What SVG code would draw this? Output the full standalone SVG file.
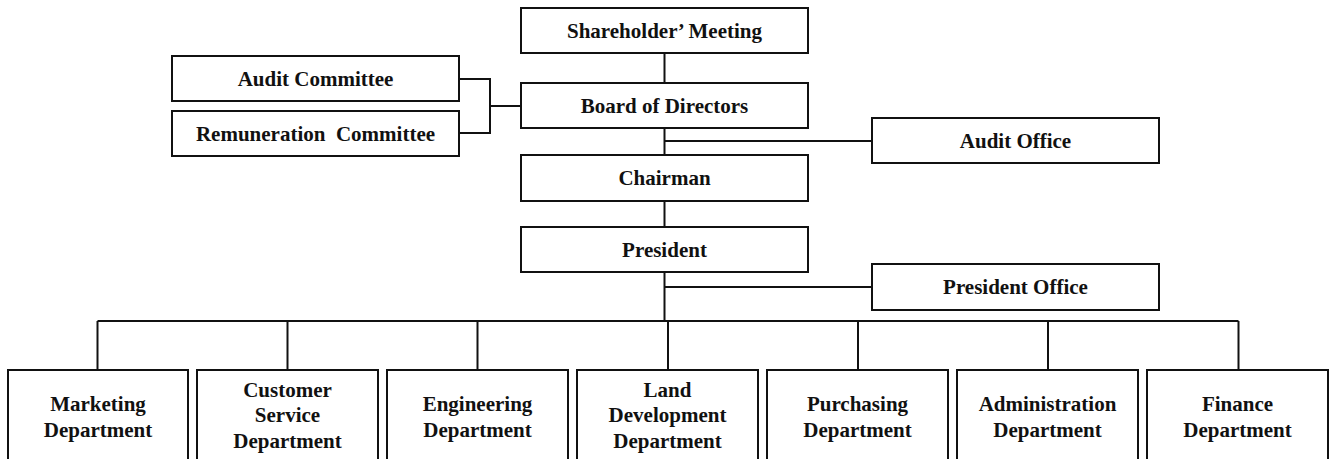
<svg xmlns="http://www.w3.org/2000/svg" width="1335" height="459" viewBox="0 0 1335 459">
  <style>
    .box { fill: #ffffff; stroke: #111111; stroke-width: 2; }
    .lbl { font-family: "Liberation Serif", "Times New Roman", serif; font-weight: bold; font-size: 21px; fill: #111111; text-anchor: middle; }
    .wire { fill: none; stroke: #111111; stroke-width: 2; }
  </style>
  <rect x="0" y="0" width="1335" height="459" fill="#ffffff"/>

  <!-- connectors -->
  <g id="connectors" class="wire">
    <path d="M664.5 53 V83"/>
    <path d="M664.5 128 V155"/>
    <path d="M664.5 201 V227"/>
    <path d="M664.5 272 V321"/>
    <path d="M664.5 141 H872"/>
    <path d="M664.5 287 H872"/>
    <path d="M459 79 H490 V133 H459"/>
    <path d="M490 106 H521"/>
    <path d="M97.5 321 H1238.5"/>
    <path d="M97.5 321 V370"/>
    <path d="M287.5 321 V370"/>
    <path d="M477.5 321 V370"/>
    <path d="M668 321 V370"/>
    <path d="M858 321 V370"/>
    <path d="M1048 321 V370"/>
    <path d="M1238.5 321 V370"/>
  </g>

  <!-- governance -->
  <g id="shareholders-meeting">
    <rect class="box" x="521" y="8" width="287" height="45"/>
    <text class="lbl" x="664.5" y="38">Shareholder’ Meeting</text>
  </g>
  <g id="board-of-directors">
    <rect class="box" x="521" y="83" width="287" height="45"/>
    <text class="lbl" x="664.5" y="113">Board of Directors</text>
  </g>
  <g id="audit-committee">
    <rect class="box" x="172" y="56" width="287" height="45"/>
    <text class="lbl" x="315.5" y="86">Audit Committee</text>
  </g>
  <g id="remuneration-committee">
    <rect class="box" x="172" y="111" width="287" height="45"/>
    <text class="lbl" x="315.5" y="141" xml:space="preserve">Remuneration  Committee</text>
  </g>
  <g id="audit-office">
    <rect class="box" x="872" y="118" width="287" height="45"/>
    <text class="lbl" x="1015.5" y="148">Audit Office</text>
  </g>
  <g id="chairman">
    <rect class="box" x="521" y="155" width="287" height="46"/>
    <text class="lbl" x="664.5" y="185">Chairman</text>
  </g>
  <g id="president">
    <rect class="box" x="521" y="227" width="287" height="45"/>
    <text class="lbl" x="664.5" y="257">President</text>
  </g>
  <g id="president-office">
    <rect class="box" x="872" y="264" width="287" height="46"/>
    <text class="lbl" x="1015.5" y="294">President Office</text>
  </g>

  <!-- departments -->
  <g id="marketing-department">
    <rect class="box" x="8" y="370" width="180" height="100"/>
    <text class="lbl" x="98" y="411">Marketing</text>
    <text class="lbl" x="98" y="437">Department</text>
  </g>
  <g id="customer-service-department">
    <rect class="box" x="197" y="370" width="181" height="100"/>
    <text class="lbl" x="287.5" y="397">Customer</text>
    <text class="lbl" x="287.5" y="422">Service</text>
    <text class="lbl" x="287.5" y="448">Department</text>
  </g>
  <g id="engineering-department">
    <rect class="box" x="387" y="370" width="181" height="100"/>
    <text class="lbl" x="477.5" y="411">Engineering</text>
    <text class="lbl" x="477.5" y="437">Department</text>
  </g>
  <g id="land-development-department">
    <rect class="box" x="577" y="370" width="181" height="100"/>
    <text class="lbl" x="667.5" y="397">Land</text>
    <text class="lbl" x="667.5" y="422">Development</text>
    <text class="lbl" x="667.5" y="448">Department</text>
  </g>
  <g id="purchasing-department">
    <rect class="box" x="767" y="370" width="181" height="100"/>
    <text class="lbl" x="857.5" y="411">Purchasing</text>
    <text class="lbl" x="857.5" y="437">Department</text>
  </g>
  <g id="administration-department">
    <rect class="box" x="957" y="370" width="181" height="100"/>
    <text class="lbl" x="1047.5" y="411">Administration</text>
    <text class="lbl" x="1047.5" y="437">Department</text>
  </g>
  <g id="finance-department">
    <rect class="box" x="1147" y="370" width="181" height="100"/>
    <text class="lbl" x="1237.5" y="411">Finance</text>
    <text class="lbl" x="1237.5" y="437">Department</text>
  </g>
</svg>
